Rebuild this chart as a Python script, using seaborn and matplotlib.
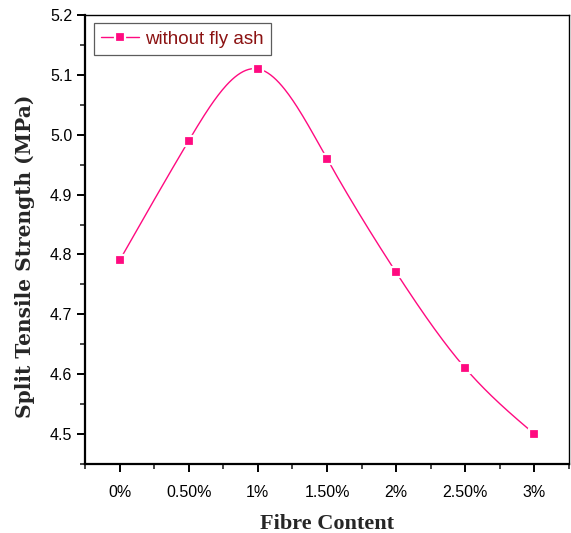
import numpy as np
import pandas as pd
import matplotlib
matplotlib.use("Agg")
import matplotlib.pyplot as plt
import seaborn as sns
from matplotlib.ticker import MultipleLocator, FixedLocator, FixedFormatter

# Data
fibre_pos = [0.0, 0.5, 1.0, 1.5, 2.0, 2.5, 3.0]
fibre_labels = ["0%", "0.50%", "1%", "1.50%", "2%", "2.50%", "3%"]
strength = [4.79, 4.99, 5.11, 4.96, 4.77, 4.61, 4.50]
series_name = "without fly ash"

PINK = "#ff0a80"


def natural_spline(x, y, n=300):
    x = np.asarray(x, float)
    y = np.asarray(y, float)
    m = len(x)
    h = np.diff(x)
    A = np.zeros((m, m))
    b = np.zeros(m)
    A[0, 0] = 1
    A[-1, -1] = 1
    for i in range(1, m - 1):
        A[i, i - 1] = h[i - 1]
        A[i, i] = 2 * (h[i - 1] + h[i])
        A[i, i + 1] = h[i]
        b[i] = 3 * ((y[i + 1] - y[i]) / h[i] - (y[i] - y[i - 1]) / h[i - 1])
    c = np.linalg.solve(A, b)
    xs = np.linspace(x[0], x[-1], n)
    ys = np.empty_like(xs)
    for k, xv in enumerate(xs):
        i = min(np.searchsorted(x, xv, side="right") - 1, m - 2)
        dx = xv - x[i]
        bi = (y[i + 1] - y[i]) / h[i] - h[i] * (2 * c[i] + c[i + 1]) / 3
        di = (c[i + 1] - c[i]) / (3 * h[i])
        ys[k] = y[i] + bi * dx + c[i] * dx ** 2 + di * dx ** 3
    return xs, ys


sns.set_theme(style="ticks")
plt.rcParams["font.family"] = ["Liberation Sans", "DejaVu Sans"]

fig = plt.figure(figsize=(5.71, 5.33), dpi=100)
ax = fig.add_axes([85 / 571, (533 - 464) / 533, (569 - 85) / 571, (464 - 15) / 533])

df = pd.DataFrame({"x": fibre_pos, "y": strength})
sx, sy = natural_spline(df["x"], df["y"])
curve = pd.DataFrame({"x": sx, "y": sy})
sns.lineplot(data=curve, x="x", y="y", ax=ax, color=PINK, linewidth=1.0,
             legend=False, zorder=2)
ax.plot(df["x"], df["y"], linestyle="none", marker="s", markersize=7,
        markerfacecolor=PINK, markeredgecolor="white", markeredgewidth=1.6,
        zorder=3)

# legend handle
handle, = ax.plot([], [], color=PINK, linewidth=1.0, marker="s", markersize=7,
                  markerfacecolor=PINK, markeredgecolor="white",
                  markeredgewidth=1.6)
leg = ax.legend([handle], [series_name], loc="upper left",
                bbox_to_anchor=(0.01, 0.99), frameon=True, fancybox=False,
                fontsize=13.5, handlelength=2.0, handletextpad=0.35,
                borderpad=0.4, borderaxespad=0.2)
leg.get_frame().set_edgecolor("#333333")
leg.get_frame().set_linewidth(0.9)
for t in leg.get_texts():
    t.set_color("#8b1212")

ax.set_xlim(-0.25, 3.25)
ax.set_ylim(4.45, 5.2)
ax.xaxis.set_major_locator(FixedLocator(fibre_pos))
ax.xaxis.set_major_formatter(FixedFormatter(fibre_labels))
ax.xaxis.set_minor_locator(MultipleLocator(0.25))
ax.yaxis.set_major_locator(MultipleLocator(0.1))
ax.yaxis.set_minor_locator(MultipleLocator(0.05))
ax.yaxis.set_major_formatter(matplotlib.ticker.FormatStrFormatter("%.1f"))

for s in ax.spines.values():
    s.set_linewidth(1.6)
    s.set_color("black")
ax.spines["right"].set_linewidth(1.0)
ax.spines["top"].set_linewidth(1.0)

ax.tick_params(axis="both", which="major", direction="out", length=6,
               width=1.4, labelsize=11.5, colors="black", pad=3)
ax.tick_params(axis="both", which="minor", direction="out", length=3.5,
               width=1.2)
ax.tick_params(axis="x", which="major", pad=9)

ax.set_xlabel("Fibre Content", fontsize=16, fontweight="bold",
              family="Liberation Serif", labelpad=10)
ax.set_ylabel("Split Tensile Strength (MPa)", fontsize=14.5, fontweight="bold",
              family="DejaVu Serif")
ax.yaxis.set_label_coords(-0.103, 0.463)

fig.savefig("out.png", dpi=100)
